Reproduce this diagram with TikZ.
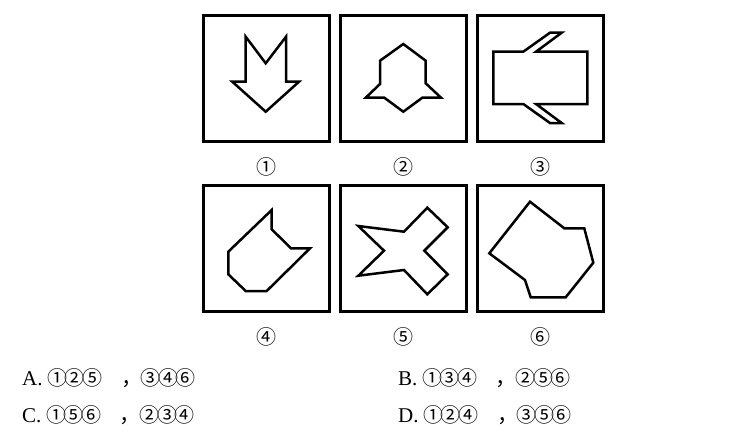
\documentclass[tikz,border=0pt]{standalone}
\usepackage{fontspec}
\setmainfont{Liberation Serif}
\newfontfamily\cjkfont{Noto Sans CJK SC}
\newfontfamily\circfont{Noto Sans CJK SC}
\usetikzlibrary{positioning}

\tikzset{
  panel/.style={draw, line width=2.8pt, minimum size=126pt, inner sep=0pt},
  figline/.style={line width=2.5pt, line join=miter},
  numlabel/.style={font=\circfont\fontsize{20}{24}\selectfont, inner sep=0pt},
  choice/.style={anchor=base west, inner sep=0pt, font=\fontsize{21}{25}\selectfont},
}
\newcommand{\cn}[1]{\makebox[17.5pt]{\circfont\fontsize{20}{24}\selectfont #1}}
\newcommand{\fwcomma}{\hspace{20pt}{\cjkfont ，}}

\begin{document}
\begin{tikzpicture}[x=1pt, y=-1pt]
  \useasboundingbox (0,0) rectangle (750,440);
  % Six square panels
  \node[panel] (p1) at (266.5,78.5) {};
  \node[panel, right=8pt of p1] (p2) {};
  \node[panel, right=8pt of p2] (p3) {};
  \node[panel] (p4) at (266.5,248.5) {};
  \node[panel, right=8pt of p4] (p5) {};
  \node[panel, right=8pt of p5] (p6) {};
  % Panel numbers
  \foreach \p/\t in {1/①,2/②,3/③,4/④,5/⑤,6/⑥} {
    \node[numlabel] (l\p) at ([yshift=-24pt]p\p.south) {\t};
  }
  % 1: arrow pointing down with a notched tail
  \draw[figline] (245.7,36.7) -- (265.7,63.3) -- (286,36.7) -- (286,81.7)
    -- (299,81.7) -- (265.7,111.7) -- (232.3,81.7) -- (245.7,81.7) -- cycle;
  % 2: bell with side flaps
  \draw[figline] (403.3,44) -- (425.7,60.7) -- (425.7,83.3) -- (441,97.7)
    -- (422.3,97.7) -- (403.3,111.7) -- (384.3,97.7) -- (365.7,97.7)
    -- (380,84) -- (380,60.7) -- cycle;
  % 3: rectangle with two slanted prongs
  \draw[figline] (493.3,51.7) -- (523.3,51.7) -- (550,32.7) -- (561.7,32.7)
    -- (536,51.7) -- (587.3,51.7) -- (587.3,104) -- (536,104)
    -- (561.7,123) -- (550,123) -- (523.3,104) -- (493.3,104) -- cycle;
  % 4: cat-head like octagon
  \draw[figline] (271.7,210) -- (271.7,229.3) -- (291,248.3) -- (310,248.3)
    -- (266.7,291) -- (245.7,291) -- (228.3,274.3) -- (228.3,251.7) -- cycle;
  % 5: four-pointed cross shape
  \draw[figline] (358.3,226) -- (404,231.7) -- (427.3,207.7) -- (447.7,227.3)
    -- (424.3,250.7) -- (447.7,274.3) -- (427.3,294.3) -- (404,270)
    -- (358.3,275.7) -- (384,250.7) -- cycle;
  % 6: irregular octagon
  \draw[figline] (530,201.7) -- (564.3,228.3) -- (584.3,228.3) -- (593.3,262.7)
    -- (565.7,297.3) -- (530.7,297.3) -- (525,280) -- (489.3,253.3) -- cycle;
  % Answer choices
  \node[choice] (optA) at (22,385)
    {A.\hspace{6pt}\cn{①}\cn{②}\cn{⑤}\fwcomma\cn{③}\cn{④}\cn{⑥}};
  \node[choice] (optB) at (398,385)
    {B.\hspace{6pt}\cn{①}\cn{③}\cn{④}\fwcomma\cn{②}\cn{⑤}\cn{⑥}};
  \node[choice] (optC) at (22,422)
    {C.\hspace{6pt}\cn{①}\cn{⑤}\cn{⑥}\fwcomma\cn{②}\cn{③}\cn{④}};
  \node[choice] (optD) at (398,422)
    {D.\hspace{6pt}\cn{①}\cn{②}\cn{④}\fwcomma\cn{③}\cn{⑤}\cn{⑥}};
\end{tikzpicture}
\end{document}
